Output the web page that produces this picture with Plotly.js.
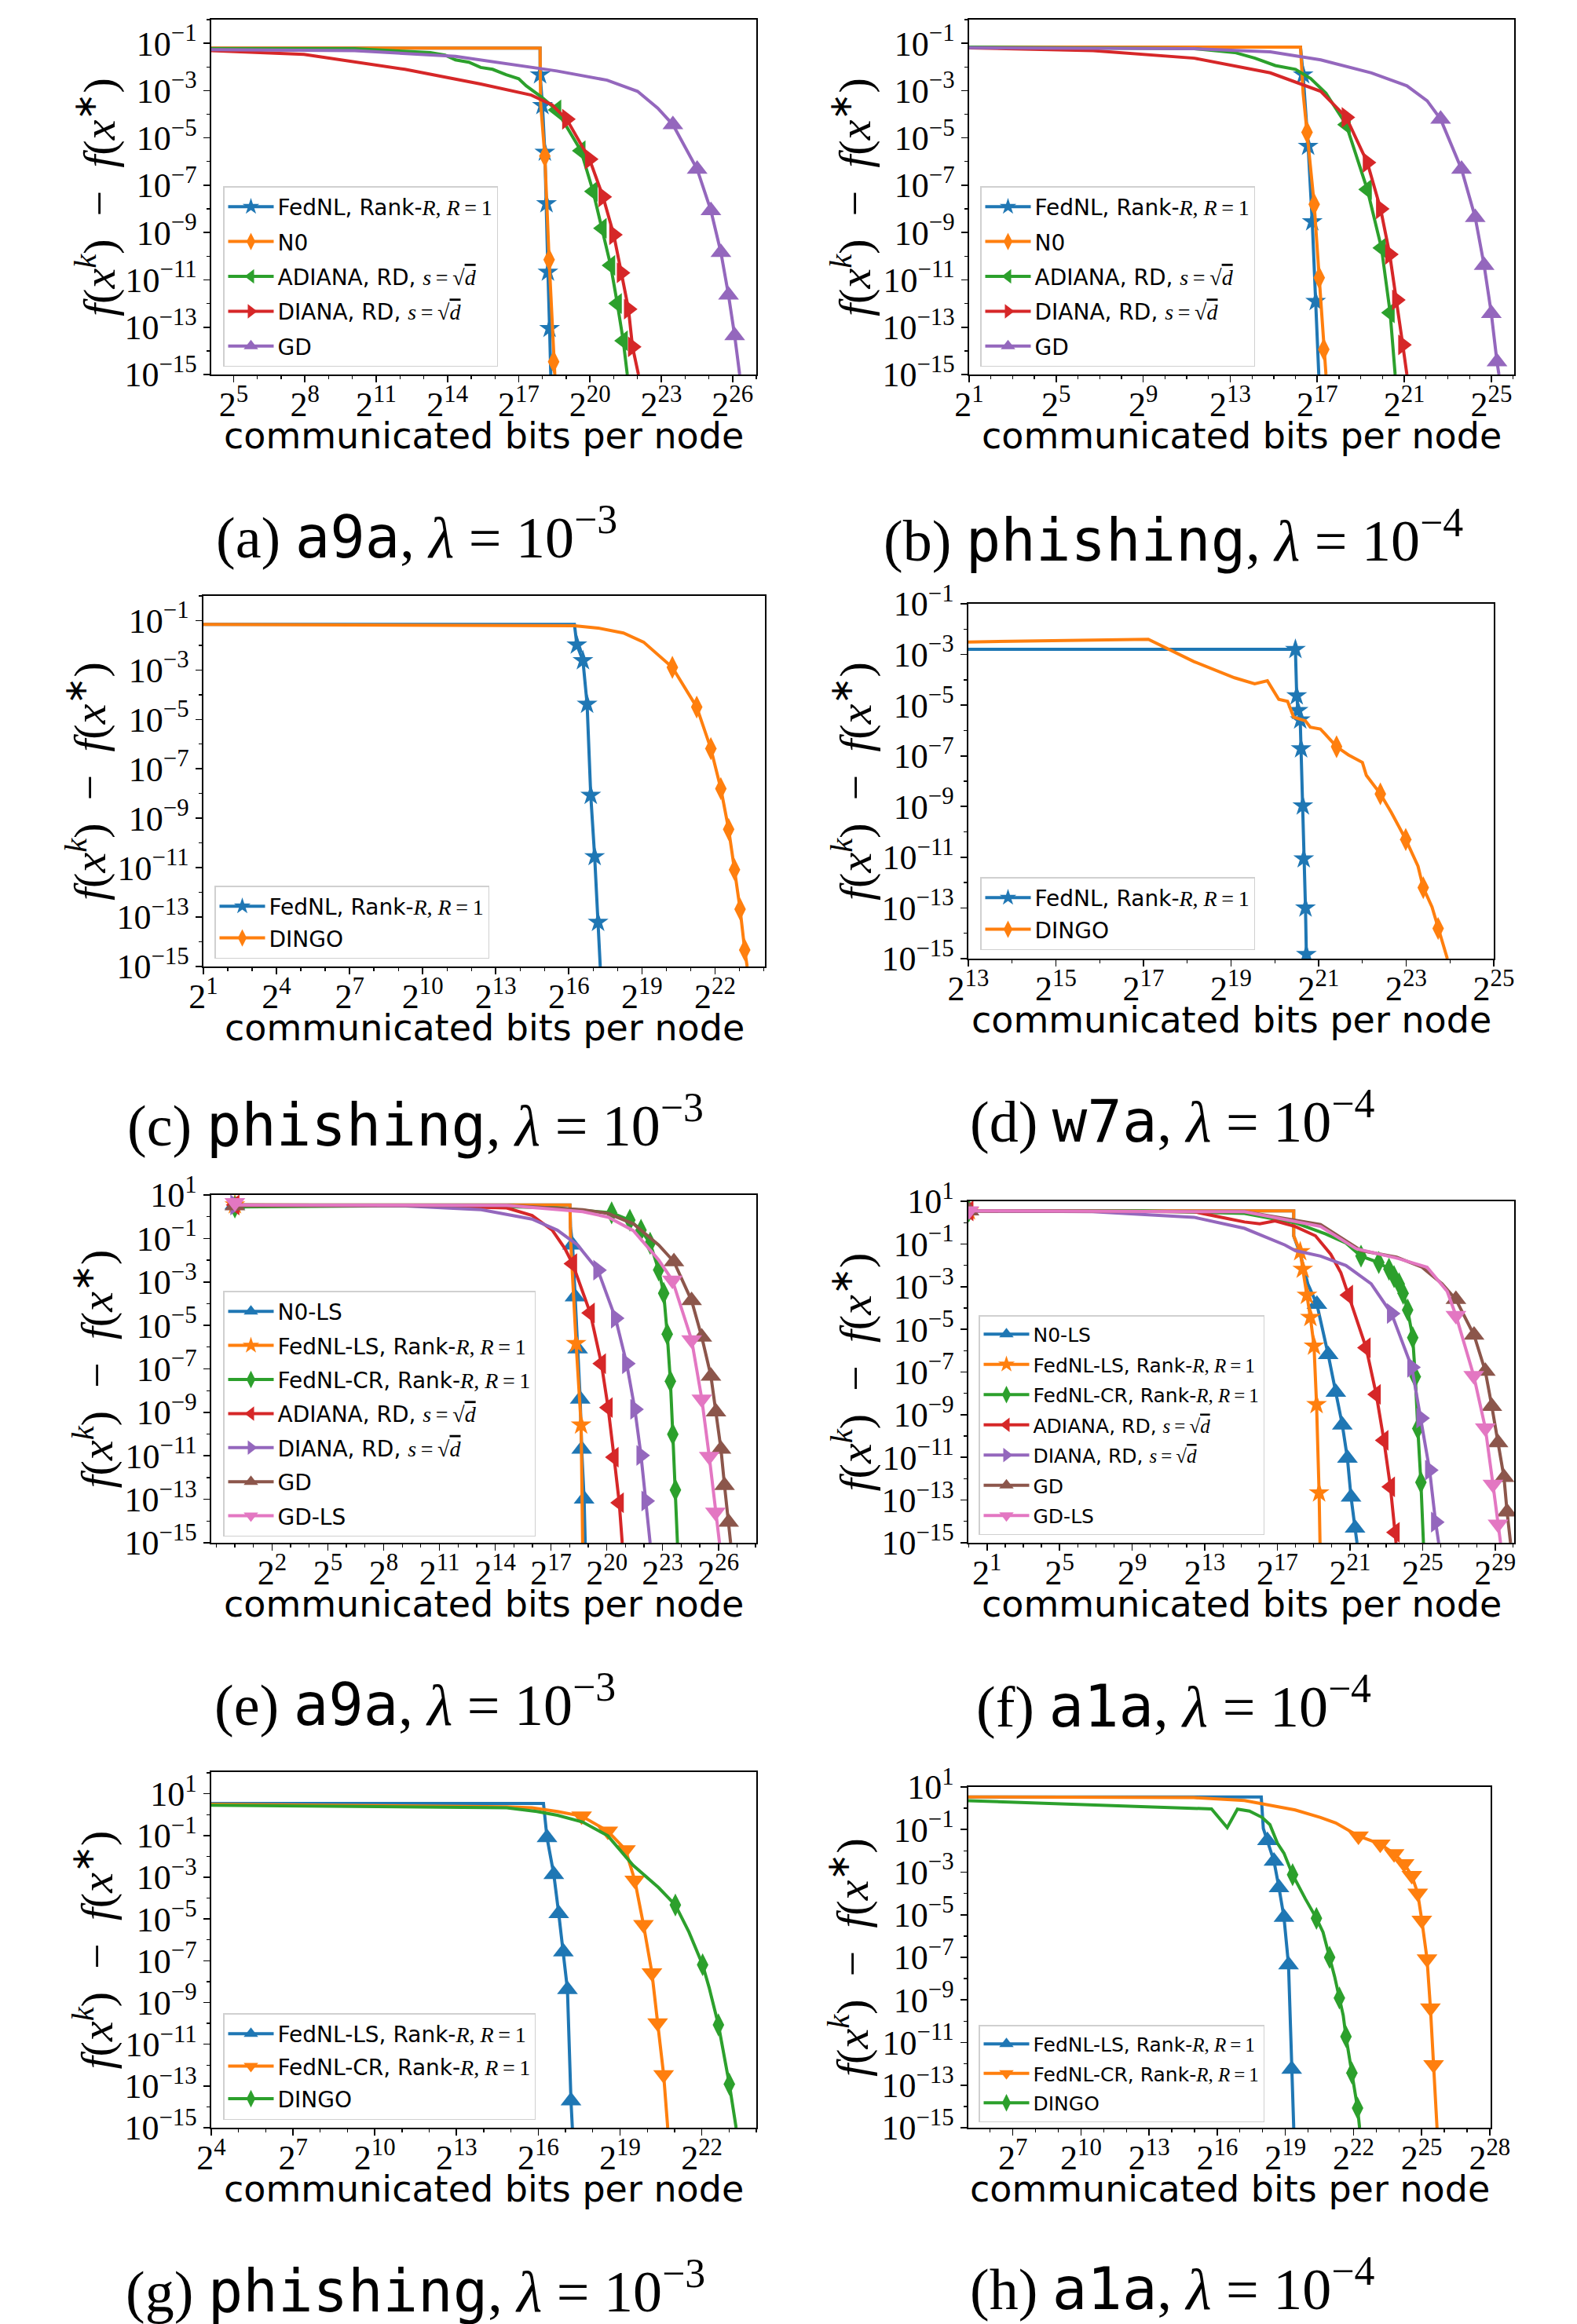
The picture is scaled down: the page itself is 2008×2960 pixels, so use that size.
<!DOCTYPE html>
<html><head><meta charset="utf-8">
<script src="https://cdn.plot.ly/plotly-3.0.1.min.js"></script>
<style>body{margin:0;background:#fff}#chart{width:2008px;height:2960px}</style>
</head><body><div id="chart"></div>
<script>
// ===== DATA (x: log2 of communicated bits, y: log10 of f(x^k)-f(x*)) =====
// ---- (a) a9a, lambda=1e-3
const a_FedNL_x=[4.0,17.9,18.35], a_FedNL_y=[-1.2,-1.2,-15];
const a_FedNL_mx=[17.9,18.0,18.1,18.17,18.23,18.3], a_FedNL_my=[-2.33,-3.63,-5.6,-7.78,-10.67,-13.05];
const a_N0_x=[4.0,17.9,17.92,18.52], a_N0_y=[-1.2,-1.2,-3.5,-15];
const a_N0_mx=[18.1,18.28,18.47], a_N0_my=[-5.77,-10.15,-14.46];
const a_ADIANA_x=[4.0,10.09,13.28,13.9,14.34,14.9,15.4,15.9,16.47,17.0,17.32,17.96,21.57], a_ADIANA_y=[-1.23,-1.23,-1.39,-1.5,-1.7,-1.8,-2.02,-2.1,-2.33,-2.5,-2.8,-3.27,-15];
const a_ADIANA_mx=[18.6,19.62,20.13,20.51,20.87,21.15,21.4], a_ADIANA_my=[-3.82,-5.54,-7.26,-8.82,-10.39,-12.0,-13.57];
const a_DIANA_x=[4.0,7.96,12.21,15.4,17.53,18.4,22.04], a_DIANA_y=[-1.31,-1.47,-2.1,-2.72,-3.19,-3.6,-15];
const a_DIANA_mx=[19.02,19.98,20.55,21.0,21.32,21.62,21.79], a_DIANA_my=[-4.21,-5.9,-7.49,-9.09,-10.7,-12.24,-13.83];
const a_GD_x=[4.0,10.09,14.34,16.47,18.6,20.72,22.0,22.85,26.3], a_GD_y=[-1.27,-1.31,-1.55,-1.86,-2.17,-2.56,-3.03,-3.74,-15];
const a_GD_mx=[23.49,24.51,25.09,25.51,25.83,26.09], a_GD_my=[-4.44,-6.32,-8.07,-9.84,-11.64,-13.36];
// ---- (b) phishing, lambda=1e-4
const b_FedNL_x=[0.9,16.23,17.07], b_FedNL_y=[-1.16,-1.16,-15];
const b_FedNL_mx=[16.35,16.58,16.77,16.93], b_FedNL_my=[-2.33,-5.35,-8.54,-11.91];
const b_N0_x=[0.9,16.23,16.35,17.4], b_N0_y=[-1.16,-1.16,-3.11,-15];
const b_N0_mx=[16.53,16.86,17.09,17.3], b_N0_my=[-4.76,-7.81,-10.91,-13.94];
const b_ADIANA_x=[0.9,11.35,13.21,14.14,15.07,16.0,16.7,17.4,20.58], b_ADIANA_y=[-1.16,-1.23,-1.39,-1.63,-1.94,-2.1,-2.49,-3.11,-15];
const b_ADIANA_mx=[18.33,19.3,19.95,20.35], b_ADIANA_my=[-4.44,-7.18,-9.65,-12.39];
const b_DIANA_x=[0.9,6.7,11.35,14.84,17.16,21.12], b_DIANA_y=[-1.19,-1.31,-1.63,-2.25,-3.03,-15];
const b_DIANA_mx=[18.33,19.3,19.91,20.33,20.65,20.93], b_DIANA_my=[-4.13,-6.04,-8.0,-9.92,-11.85,-13.75];
const b_GD_x=[0.9,11.35,14.84,17.16,19.49,21.12,22.05,25.35], b_GD_y=[-1.19,-1.23,-1.36,-1.7,-2.25,-2.8,-3.43,-15];
const b_GD_mx=[22.67,23.63,24.26,24.67,25.0,25.26], b_GD_my=[-4.21,-6.32,-8.36,-10.39,-12.42,-14.46];
// ---- (c) phishing, lambda=1e-3
const c_FedNL_x=[0.9,16.23,17.29], c_FedNL_y=[-1.15,-1.15,-15];
const c_FedNL_mx=[16.33,16.58,16.75,16.9,17.06,17.2], c_FedNL_my=[-1.98,-2.62,-4.38,-8.07,-10.55,-13.21];
const c_DINGO_x=[0.9,16.23,17.2,18.24,19.07,19.69,23.32], c_DINGO_y=[-1.15,-1.21,-1.3,-1.5,-1.87,-2.4,-15];
const c_DINGO_mx=[20.25,21.25,21.83,22.24,22.56,22.8,23.03,23.22], c_DINGO_my=[-2.89,-4.5,-6.18,-7.8,-9.45,-11.08,-12.68,-14.33];
// ---- (d) w7a, lambda=1e-4
const d_FedNL_x=[12.9,20.72], d_FedNL_y=[-2.8,-15];
const d_FedNL_mx=[20.47,20.5,20.53,20.58,20.6,20.64,20.66,20.7,20.72], d_FedNL_my=[-2.8,-4.63,-5.21,-5.58,-6.72,-8.97,-11.06,-13.0,-14.83];
const d_DINGO_x=[12.9,17.11,18.15,19.08,19.54,19.83,20.09,20.29,20.43,20.7,20.81,21.04,21.16,21.68,22.0,22.09,22.66,23.27,23.59,23.94];
const d_DINGO_y=[-2.51,-2.4,-3.28,-3.92,-4.16,-4.04,-4.77,-4.85,-5.47,-5.62,-5.87,-5.94,-6.16,-6.96,-7.26,-7.77,-9.23,-11.35,-12.96,-15];
const d_DINGO_mx=[21.41,22.41,22.99,23.39,23.73], d_DINGO_my=[-6.64,-8.5,-10.3,-12.2,-13.81];
// ---- (e) a9a, lambda=1e-3
const e_N0LS_x=[0,18.02,18.05,18.84], e_N0LS_y=[0.54,0.54,-0.5,-15];
const e_N0LS_mx=[0,18.16,18.29,18.43,18.57,18.65,18.78], e_N0LS_my=[0.55,-1.3,-3.69,-6.08,-8.39,-10.69,-12.99];
const e_FedNLLS_x=[0,18.02,18.05,18.7], e_FedNLLS_y=[0.54,0.54,-1.0,-15];
const e_FedNLLS_mx=[0,18.35,18.62], e_FedNLLS_my=[0.55,-5.83,-9.58];
const e_FedNLCR_x=[0,11.89,17.34,23.8], e_FedNLCR_y=[0.54,0.52,0.4,-15];
const e_FedNLCR_mx=[0,20.26,21.24,21.84,22.33,22.79,23.06,23.25,23.42,23.55,23.69], e_FedNLCR_my=[0.45,0.18,-0.16,-0.62,-1.22,-2.45,-3.52,-5.4,-7.57,-10.01,-12.57];
const e_ADIANA_x=[0,9.17,14.62,15.98,17.07,17.75,20.83], e_ADIANA_y=[0.54,0.52,0.4,0.06,-0.62,-1.47,-15];
const e_ADIANA_mx=[0,18.16,19.11,19.71,20.07,20.39,20.67], e_ADIANA_my=[0.54,-2.16,-4.43,-6.76,-8.78,-11.06,-13.16];
const e_DIANA_x=[0,9.17,13.25,15.98,17.34,18.43,22.33], e_DIANA_y=[0.54,0.49,0.32,-0.11,-0.62,-1.3,-15];
const e_DIANA_mx=[0,19.52,20.47,21.07,21.51,21.84,22.11], e_DIANA_my=[0.54,-2.46,-4.67,-6.76,-8.86,-10.98,-13.08];
const e_GD_x=[0,14.62,18.7,20.07,21.43,22.79,26.66], e_GD_y=[0.54,0.52,0.32,0.15,-0.33,-1.3,-15];
const e_GD_mx=[0,23.61,24.56,25.11,25.6,25.87,26.14,26.33,26.55], e_GD_my=[0.5,-2.07,-3.86,-5.54,-7.33,-8.98,-10.69,-12.36,-14.05];
const e_GDLS_x=[0,14.62,18.7,20.07,21.43,22.79,26.06], e_GDLS_y=[0.54,0.52,0.23,-0.02,-0.64,-1.99,-15];
const e_GDLS_mx=[0,23.53,24.56,25.11,25.51,25.84], e_GDLS_my=[0.65,-2.92,-5.66,-8.39,-11.03,-13.59];
// ---- (f) a1a, lambda=1e-4
const f_N0LS_x=[0,17.9,17.9,18.26,18.68,21.39], f_N0LS_y=[0.55,0.55,-0.62,-1.48,-2.87,-15];
const f_N0LS_mx=[0,19.18,19.8,20.22,20.58,20.86,21.06,21.28], f_N0LS_my=[0.55,-3.83,-6.18,-7.95,-9.48,-11.04,-12.86,-14.31];
const f_FedNLLS_x=[0,17.9,17.9,19.35], f_FedNLLS_y=[0.55,0.55,-0.62,-15];
const f_FedNLLS_mx=[0,18.26,18.4,18.63,18.82,19.02,19.16,19.3], f_FedNLLS_my=[0.55,-1.36,-2.18,-3.4,-4.44,-5.78,-8.52,-12.66];
const f_FedNLCR_x=[0,9.6,15.19,17.98,19.66,20.78,25.05], f_FedNLCR_y=[0.55,0.55,0.43,-0.01,-0.53,-0.96,-15];
const f_FedNLCR_mx=[0,21.61,22.59,23.15,23.43,23.71,23.93,24.18,24.46,24.6,24.74,24.91], f_FedNLCR_my=[0.55,-1.57,-1.87,-2.18,-2.53,-2.87,-3.31,-4.09,-5.39,-7.22,-9.65,-12.17];
const f_ADIANA_x=[0,12.4,14.35,15.19,16.03,16.87,17.98,19.1,19.94,20.5,23.54], f_ADIANA_y=[0.55,0.51,0.17,0.03,-0.06,0.08,-0.18,-0.62,-1.48,-2.35,-15];
const f_ADIANA_mx=[0,20.92,21.89,22.45,22.87,23.23,23.49], f_ADIANA_my=[0.55,-3.4,-5.86,-8.05,-10.2,-12.38,-14.51];
const f_DIANA_x=[0,6.81,12.4,15.19,17.42,17.98,19.38,20.78,22.17,25.89], f_DIANA_y=[0.55,0.51,0.25,-0.27,-1.05,-1.31,-1.57,-2.01,-2.87,-15];
const f_DIANA_mx=[0,23.29,24.41,24.91,25.39,25.72], f_DIANA_my=[0.55,-4.26,-6.78,-9.16,-11.6,-14.03];
const f_GD_x=[0,15.19,19.38,21.61,23.57,24.97,26.08,29.85], f_GD_y=[0.55,0.51,-0.09,-1.31,-1.62,-2.09,-2.87,-15];
const f_GD_mx=[0,26.84,27.84,28.46,28.82,29.16,29.49,29.66], f_GD_my=[0.55,-3.6,-5.27,-6.96,-8.61,-10.31,-11.94,-13.56];
const f_GDLS_x=[0,15.19,19.38,21.34,23.57,25.25,26.36,29.3], f_GDLS_y=[0.55,0.51,-0.18,-1.22,-1.66,-2.09,-3.22,-15];
const f_GDLS_mx=[0,26.84,27.82,28.46,28.88,29.16], f_GDLS_my=[0.55,-4.35,-7.17,-9.62,-12.26,-14.13];
// ---- (g) phishing, lambda=1e-3
const g_FedNLLS_x=[3.9,16.19,17.25], g_FedNLLS_y=[0.54,0.54,-15];
const g_FedNLLS_mx=[16.32,16.57,16.75,16.92,17.07,17.2], g_FedNLLS_my=[-1.1,-2.87,-4.74,-6.57,-8.38,-13.71];
const g_FedNLCR_x=[3.9,12.98,14.84,15.77,16.7,20.75], g_FedNLCR_y=[0.5,0.41,0.38,0.33,0.15,-15];
const g_FedNLCR_mx=[17.59,18.55,19.2,19.54,19.86,20.17,20.38,20.6], g_FedNLCR_my=[-0.07,-0.79,-1.68,-3.14,-5.27,-7.58,-9.98,-12.46];
const g_DINGO_x=[3.9,14.84,15.95,16.7,17.62,18.55,19.48,20.41,21.53,22.27,23.26], g_DINGO_y=[0.45,0.33,0.15,-0.03,-0.35,-1.01,-2.43,-3.49,-5.63,-8.29,-15];
const g_DINGO_mx=[21.03,22.03,22.61,23.01], g_DINGO_my=[-4.33,-7.19,-10.07,-12.91];
// ---- (h) a1a, lambda=1e-4
const h_FedNLLS_x=[4.9,17.94,18.03,19.37], h_FedNLLS_y=[0.53,0.53,-0.95,-15];
const h_FedNLLS_mx=[18.21,18.5,18.72,18.94,19.14,19.28], h_FedNLLS_my=[-1.52,-2.48,-3.73,-5.12,-7.35,-12.25];
const h_FedNLCR_x=[4.9,14.97,17.2,19.43,20.55,21.22,25.68], h_FedNLCR_y=[0.53,0.5,0.36,-0.08,-0.43,-0.69,-15];
const h_FedNLCR_mx=[22.22,23.18,23.79,24.23,24.57,24.83,25.01,25.24,25.39,25.53], h_FedNLCR_my=[-1.3,-1.68,-2.13,-2.6,-3.16,-3.99,-5.26,-7.07,-9.38,-12.04];
const h_DINGO_x=[4.9,15.75,16.44,16.89,17.42,17.98,18.32,18.65,18.94,19.88,20.66,21.17,21.55,22.27];
const h_DINGO_y=[0.36,-0.03,-0.91,-0.04,-0.13,-0.43,-0.77,-1.64,-2.11,-4.25,-5.82,-7.9,-9.73,-15];
const h_DINGO_mx=[19.32,20.37,20.95,21.38,21.67,21.93,22.18], h_DINGO_my=[-3.12,-5.17,-7.0,-8.91,-10.72,-12.43,-14.08];

// ---- tick labels (exponents)
const a_xticks=[5,8,11,14,17,20,23,26], b_xticks=[1,5,9,13,17,21,25], c_xticks=[1,4,7,10,13,16,19,22], d_xticks=[13,15,17,19,21,23,25];
const e_xticks=[2,5,8,11,14,17,20,23,26], f_xticks=[1,5,9,13,17,21,25,29], g_xticks=[4,7,10,13,16,19,22], h_xticks=[7,10,13,16,19,22,25,28];
const yticks_top=[-1,-3,-5,-7,-9,-11,-13,-15];
const yticks_bottom=[1,-1,-3,-5,-7,-9,-11,-13,-15];
const captionLetters=['a','b','c','d','e','f','g','h'];
const datasets=['a9a','phishing','phishing','w7a','a9a','a1a','phishing','a1a'];
const lambdas=[-3,-4,-3,-4,-3,-4,-3,-4];

// ===== STYLE / LAYOUT =====
const W=2008,H=2960,L2=Math.log10(2);
const C={blue:'#1f77b4',orange:'#ff7f0e',green:'#2ca02c',red:'#d62728',purple:'#9467bd',brown:'#8c564b',pink:'#e377c2'};
const SER='Liberation Serif';
const m=s=>'<span style="font-family:'+SER+'">'+s+'</span>';
const N_FEDNL='FedNL, Rank-'+m('<i>R</i>, <i>R</i>\u2009=\u20091');
const N_FEDNLLS='FedNL-LS, Rank-'+m('<i>R</i>, <i>R</i>\u2009=\u20091');
const N_FEDNLCR='FedNL-CR, Rank-'+m('<i>R</i>, <i>R</i>\u2009=\u20091');
const N_ADIANA='ADIANA, RD, '+m('<i>s</i>\u2009=\u2009√<span style="text-decoration:overline"><i>d</i></span>');
const N_DIANA='DIANA, RD, '+m('<i>s</i>\u2009=\u2009√<span style="text-decoration:overline"><i>d</i></span>');

const PANELS=[
 {box:[269,963,25,477],xr:[4.06,27.0],yr:[-15,0],xt:a_xticks,yt:yticks_top,leg:[284,237],lf:28,lg:5,cap:[530,680],yt_x:123},
 {box:[1234,1928,25,477],xr:[1.0,26.05],yr:[-15,0],xt:b_xticks,yt:yticks_top,leg:[1248,237],lf:28,lg:5,cap:[1494,684],yt_x:1085},
 {box:[259,974,759,1231],xr:[1.0,24.05],yr:[-15,0],xt:c_xticks,yt:yticks_top,leg:[273,1128],lf:28,lg:1,cap:[529,1429],yt_x:110},
 {box:[1233,1902,769,1221],xr:[13,25],yr:[-15,-1],xt:d_xticks,yt:yticks_top,leg:[1248,1117],lf:28,lg:1,cap:[1492,1424],yt_x:1085},
 {box:[269,963,1522,1965],xr:[-1.27,28.04],yr:[-15,1],xt:e_xticks,yt:yticks_bottom,leg:[284,1644],lf:28,lg:4,cap:[528,2167],yt_x:119},
 {box:[1233,1928,1530,1965],xr:[-0.03,30.05],yr:[-15,1],xt:f_xticks,yt:yticks_bottom,leg:[1246,1675],lf:25,lg:3,cap:[1494,2169],yt_x:1085},
 {box:[269,963,2257,2710],xr:[4,24],yr:[-15,2.04],xt:g_xticks,yt:yticks_bottom,leg:[284,2564],lf:28,lg:2,cap:[529,2914],yt_x:119},
 {box:[1233,1898,2276,2710],xr:[5.04,28.04],yr:[-15,1],xt:h_xticks,yt:yticks_bottom,leg:[1246,2579],lf:25,lg:2,cap:[1492,2911],yt_x:1081}
];

const SERIES=[
 [[N_FEDNL,C.blue,'star',a_FedNL_x,a_FedNL_y,a_FedNL_mx,a_FedNL_my],['N0',C.orange,'diamond-tall',a_N0_x,a_N0_y,a_N0_mx,a_N0_my],
  [N_ADIANA,C.green,'triangle-left',a_ADIANA_x,a_ADIANA_y,a_ADIANA_mx,a_ADIANA_my],[N_DIANA,C.red,'triangle-right',a_DIANA_x,a_DIANA_y,a_DIANA_mx,a_DIANA_my],
  ['GD',C.purple,'triangle-up',a_GD_x,a_GD_y,a_GD_mx,a_GD_my]],
 [[N_FEDNL,C.blue,'star',b_FedNL_x,b_FedNL_y,b_FedNL_mx,b_FedNL_my],['N0',C.orange,'diamond-tall',b_N0_x,b_N0_y,b_N0_mx,b_N0_my],
  [N_ADIANA,C.green,'triangle-left',b_ADIANA_x,b_ADIANA_y,b_ADIANA_mx,b_ADIANA_my],[N_DIANA,C.red,'triangle-right',b_DIANA_x,b_DIANA_y,b_DIANA_mx,b_DIANA_my],
  ['GD',C.purple,'triangle-up',b_GD_x,b_GD_y,b_GD_mx,b_GD_my]],
 [[N_FEDNL,C.blue,'star',c_FedNL_x,c_FedNL_y,c_FedNL_mx,c_FedNL_my],['DINGO',C.orange,'diamond-tall',c_DINGO_x,c_DINGO_y,c_DINGO_mx,c_DINGO_my]],
 [[N_FEDNL,C.blue,'star',d_FedNL_x,d_FedNL_y,d_FedNL_mx,d_FedNL_my],['DINGO',C.orange,'diamond-tall',d_DINGO_x,d_DINGO_y,d_DINGO_mx,d_DINGO_my]],
 [['N0-LS',C.blue,'triangle-up',e_N0LS_x,e_N0LS_y,e_N0LS_mx,e_N0LS_my],[N_FEDNLLS,C.orange,'star',e_FedNLLS_x,e_FedNLLS_y,e_FedNLLS_mx,e_FedNLLS_my],
  [N_FEDNLCR,C.green,'diamond-tall',e_FedNLCR_x,e_FedNLCR_y,e_FedNLCR_mx,e_FedNLCR_my],[N_ADIANA,C.red,'triangle-left',e_ADIANA_x,e_ADIANA_y,e_ADIANA_mx,e_ADIANA_my],
  [N_DIANA,C.purple,'triangle-right',e_DIANA_x,e_DIANA_y,e_DIANA_mx,e_DIANA_my],['GD',C.brown,'triangle-up',e_GD_x,e_GD_y,e_GD_mx,e_GD_my],
  ['GD-LS',C.pink,'triangle-down',e_GDLS_x,e_GDLS_y,e_GDLS_mx,e_GDLS_my]],
 [['N0-LS',C.blue,'triangle-up',f_N0LS_x,f_N0LS_y,f_N0LS_mx,f_N0LS_my],[N_FEDNLLS,C.orange,'star',f_FedNLLS_x,f_FedNLLS_y,f_FedNLLS_mx,f_FedNLLS_my],
  [N_FEDNLCR,C.green,'diamond-tall',f_FedNLCR_x,f_FedNLCR_y,f_FedNLCR_mx,f_FedNLCR_my],[N_ADIANA,C.red,'triangle-left',f_ADIANA_x,f_ADIANA_y,f_ADIANA_mx,f_ADIANA_my],
  [N_DIANA,C.purple,'triangle-right',f_DIANA_x,f_DIANA_y,f_DIANA_mx,f_DIANA_my],['GD',C.brown,'triangle-up',f_GD_x,f_GD_y,f_GD_mx,f_GD_my],
  ['GD-LS',C.pink,'triangle-down',f_GDLS_x,f_GDLS_y,f_GDLS_mx,f_GDLS_my]],
 [[N_FEDNLLS,C.blue,'triangle-up',g_FedNLLS_x,g_FedNLLS_y,g_FedNLLS_mx,g_FedNLLS_my],[N_FEDNLCR,C.orange,'triangle-down',g_FedNLCR_x,g_FedNLCR_y,g_FedNLCR_mx,g_FedNLCR_my],
  ['DINGO',C.green,'diamond-tall',g_DINGO_x,g_DINGO_y,g_DINGO_mx,g_DINGO_my]],
 [[N_FEDNLLS,C.blue,'triangle-up',h_FedNLLS_x,h_FedNLLS_y,h_FedNLLS_mx,h_FedNLLS_my],[N_FEDNLCR,C.orange,'triangle-down',h_FedNLCR_x,h_FedNLCR_y,h_FedNLCR_mx,h_FedNLCR_my],
  ['DINGO',C.green,'diamond-tall',h_DINGO_x,h_DINGO_y,h_DINGO_mx,h_DINGO_my]]
];
const MSIZE={'star':20,'diamond-tall':21,'triangle-up':23,'triangle-down':23,'triangle-left':23,'triangle-right':23};

function mergePts(px,py,mx,my){
  const p=px.map((x,i)=>[x,py[i]]).concat(mx.map((x,i)=>[x,my[i]]));
  p.sort((u,v)=>(u[0]-v[0])||(v[1]-u[1]));
  return p;
}
const sup=e=>(e<0?'\u2212'+(-e):''+e);
const traces=[]; const layout={width:W,height:H,margin:{l:0,r:0,t:0,b:0},paper_bgcolor:'#fff',plot_bgcolor:'#fff',annotations:[],showlegend:true};

PANELS.forEach((P,k)=>{
  const n=k+1, xa='x'+(n===1?'':n), ya='y'+(n===1?'':n), lg='legend'+(n===1?'':n);
  const [l,r,t,b]=P.box;
  const minorX=[]; for(let e=Math.ceil(P.xr[0]);e<=Math.floor(P.xr[1]);e++) if(!P.xt.includes(e)) minorX.push(Math.pow(2,e));
  const minorY=[]; for(let e=Math.ceil(P.yr[0]);e<=Math.floor(P.yr[1]);e++) if(!P.yt.includes(e)) minorY.push(Math.pow(10,e));
  const common={type:'log',showline:true,mirror:true,linecolor:'#000',linewidth:1.6,showgrid:false,zeroline:false,
    ticks:'outside',ticklen:8,tickwidth:1.6,tickcolor:'#000',tickangle:0,tickmode:'array',
    tickfont:{family:SER,size:44,color:'#000'}};
  layout['xaxis'+(n===1?'':n)]=Object.assign({},common,{domain:[l/W,r/W],anchor:ya,range:[P.xr[0]*L2,P.xr[1]*L2],
    tickvals:P.xt.map(e=>Math.pow(2,e)),ticktext:P.xt.map(e=>'2<sup>'+sup(e)+'</sup>'),ticklabelstandoff:-9,
    minor:{tickmode:'array',tickvals:minorX,ticks:'outside',ticklen:4.5,tickwidth:1.3,tickcolor:'#000',showgrid:false}});
  layout['yaxis'+(n===1?'':n)]=Object.assign({},common,{domain:[1-b/H,1-t/H],anchor:xa,range:[P.yr[0],P.yr[1]],
    tickvals:P.yt.map(e=>Math.pow(10,e)),ticktext:P.yt.map(e=>'10<sup>'+sup(e)+'</sup>'),
    minor:{tickmode:'array',tickvals:minorY,ticks:'outside',ticklen:4.5,tickwidth:1.3,tickcolor:'#000',showgrid:false}});
  layout[lg]={x:P.leg[0]/W,y:1-P.leg[1]/H,xanchor:'left',yanchor:'top',bgcolor:'rgba(255,255,255,0.85)',bordercolor:'#d0d0d0',borderwidth:1.5,
    font:{family:'DejaVu Sans',size:P.lf,color:'#000'},itemwidth:58,traceorder:'grouped',tracegroupgap:P.lg};
  SERIES[k].forEach((s,j)=>{
    const [name,col,sym,px,py,mx,my]=s;
    const pts=mergePts(px,py,mx,my);
    traces.push({x:pts.map(p=>Math.pow(2,p[0])),y:pts.map(p=>Math.pow(10,p[1])),xaxis:xa,yaxis:ya,mode:'lines',
      line:{color:col,width:4},showlegend:false,hoverinfo:'skip'});
    traces.push({x:mx.map(v=>Math.pow(2,v)),y:my.map(v=>Math.pow(10,v)),xaxis:xa,yaxis:ya,mode:'markers',
      marker:{symbol:sym,size:MSIZE[sym],color:col},showlegend:false,hoverinfo:'skip',cliponaxis:true});
    traces.push({x:[null],y:[null],xaxis:xa,yaxis:ya,mode:'lines+markers',name:name,legend:lg,legendgroup:'p'+n+'s'+j,
      line:{color:col,width:4},marker:{symbol:sym,size:MSIZE[sym],color:col},showlegend:true});
  });
  layout.annotations.push({xref:'paper',yref:'paper',x:(l+r)/2/W,y:1-(b+78)/H,xanchor:'center',yanchor:'middle',showarrow:false,
    text:'communicated bits per node',font:{family:'DejaVu Sans',size:46,color:'#000'}});
  layout.annotations.push({xref:'paper',yref:'paper',x:P.yt_x/W,y:1-(t+b)/2/H,xanchor:'center',yanchor:'middle',showarrow:false,textangle:-90,
    text:'<i>f</i>(<i>x</i><sup><i>k</i></sup>)\u2002\u2212\u2002<i>f</i>(<i>x</i><sup>\u2217</sup>)',font:{family:SER,size:58,color:'#000'}});
  layout.annotations.push({xref:'paper',yref:'paper',x:P.cap[0]/W,y:1-P.cap[1]/H,xanchor:'center',yanchor:'middle',showarrow:false,
    text:'('+captionLetters[k]+') <span style="font-family:DejaVu Sans Mono">'+datasets[k]+'</span>, <i>λ</i> = 10<sup>'+sup(lambdas[k])+'</sup>',
    font:{family:SER,size:74,color:'#000'}});
});

Plotly.newPlot('chart',traces,layout,{staticPlot:true});
</script></body></html>
